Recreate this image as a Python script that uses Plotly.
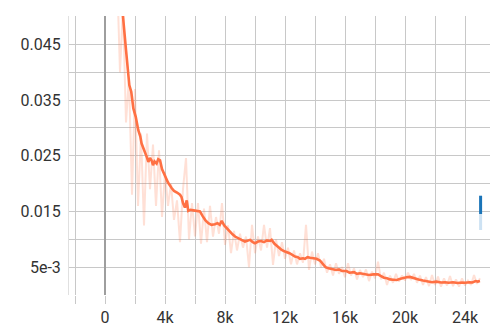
import plotly.graph_objects as go

# ---- data ----
raw_steps = [600, 800, 1000, 1200, 1400, 1600, 1800, 2000, 2200, 2400, 2600, 2800, 3000, 3200, 3400,
             3600, 3800, 4000, 4200, 4400, 4600, 4800, 5000, 5200, 5400, 5600, 5800, 6000, 6200, 6400,
             6600, 6800, 7000, 7200, 7400, 7600, 7800, 8000, 8200, 8400, 8600, 8800, 9000, 9200, 9400,
             9600, 9800, 10000, 10200, 10400, 10600, 10800, 11000, 11200, 11400, 11600, 11800, 12000,
             12200, 12400, 12600, 12800, 13000, 13200, 13400, 13600, 13800, 14000, 14200, 14400, 14600,
             14800, 15000, 15200, 15400, 15600, 15800, 16000, 16200, 16400, 16600, 16800, 17000, 17200,
             17400, 17600, 17800, 18000, 18200, 18400, 18600, 18800, 19000, 19200, 19400, 19600, 19800,
             20000, 20200, 20400, 20600, 20800, 21000, 21200, 21400, 21600, 21800, 22000, 22200, 22400,
             22600, 22800, 23000, 23200, 23400, 23600, 23800, 24000, 24200, 24400, 24600, 24800, 25000]
raw_loss = [0.064, 0.058, 0.040, 0.052, 0.031, 0.039, 0.018, 0.037, 0.016, 0.029, 0.0125, 0.029, 0.019,
            0.027, 0.016, 0.026, 0.014, 0.022, 0.016, 0.020, 0.0135, 0.017, 0.0095, 0.019, 0.0246, 0.010,
            0.0165, 0.0105, 0.0165, 0.0092, 0.0155, 0.0095, 0.016, 0.0105, 0.014, 0.011, 0.0165, 0.009,
            0.0125, 0.0075, 0.0115, 0.008, 0.011, 0.0085, 0.0105, 0.005, 0.0126, 0.0075, 0.0105, 0.008,
            0.0126, 0.0085, 0.012, 0.0054, 0.010, 0.007, 0.0095, 0.0065, 0.0085, 0.0055, 0.008, 0.0055,
            0.0075, 0.0058, 0.0126, 0.0045, 0.0078, 0.0055, 0.0075, 0.005, 0.0065, 0.004, 0.0055, 0.0035,
            0.0057, 0.0038, 0.005, 0.0032, 0.0057, 0.0035, 0.0048, 0.0028, 0.0045, 0.0032, 0.0046, 0.0025,
            0.0042, 0.003, 0.006, 0.0028, 0.004, 0.0018, 0.0035, 0.0022, 0.0038, 0.0024, 0.0035, 0.0026,
            0.004, 0.0027, 0.0038, 0.0022, 0.0035, 0.0018, 0.0032, 0.0016, 0.0036, 0.0018, 0.0033, 0.0015,
            0.003, 0.0017, 0.0034, 0.0016, 0.0028, 0.0015, 0.003, 0.0017, 0.0026, 0.0018, 0.0036, 0.002,
            0.003]

smooth_steps = [1000, 1180, 1400, 1620, 1750, 1890, 2050, 2220, 2350, 2440, 2550, 2670, 2780, 2890,
                3000, 3100, 3200, 3300, 3440, 3550, 3670, 3800, 3900, 4000, 4200, 4440, 4600, 4800,
                5000, 5100, 5200, 5330, 5450, 5550, 5700, 5900, 6100, 6330, 6500, 6700, 6890, 7100,
                7330, 7500, 7650, 7780, 7950, 8110, 8300, 8500, 8670, 8900, 9100, 9330, 9500, 9670,
                9850, 10000, 10200, 10400, 10600, 10800, 11000, 11110, 11300, 11500, 11780, 12000,
                12300, 12670, 12850, 13000, 13200, 13330, 13500, 13670, 13900, 14100, 14330, 14500,
                14700, 14900, 15200, 15400, 15600, 15800, 16100, 16300, 16600, 16800, 17000, 17300,
                17600, 17900, 18200, 18400, 18600, 18800, 19000, 19200, 19450, 19700, 19900, 20100,
                20330, 20600, 20900, 21200, 21550, 21800, 22100, 22400, 22670, 22900, 23200, 23500,
                23800, 24000, 24300, 24500, 24700, 24850, 25000]
smooth_loss = [0.056, 0.0501, 0.044, 0.0377, 0.0365, 0.0335, 0.032, 0.0296, 0.0285, 0.0272, 0.0265,
               0.0254, 0.0248, 0.0239, 0.0246, 0.0242, 0.0233, 0.0240, 0.0236, 0.0244, 0.0242, 0.0226,
               0.0220, 0.0211, 0.0202, 0.0192, 0.0187, 0.0184, 0.0180, 0.0176, 0.0165, 0.0157, 0.0170,
               0.0151, 0.0153, 0.0152, 0.0151, 0.0150, 0.0142, 0.0134, 0.0129, 0.0126, 0.0127, 0.0129,
               0.0126, 0.0133, 0.0125, 0.0120, 0.0114, 0.0109, 0.0105, 0.0101, 0.0099, 0.0096, 0.0098,
               0.0099, 0.0095, 0.0093, 0.0096, 0.0097, 0.0095, 0.0098, 0.0097, 0.0099, 0.0092, 0.0087,
               0.0081, 0.0078, 0.0075, 0.0069, 0.0068, 0.0065, 0.0066, 0.0065, 0.0068, 0.0067, 0.0066,
               0.0065, 0.0062, 0.0057, 0.0050, 0.0048, 0.0046, 0.0045, 0.0046, 0.0043, 0.0043, 0.0040,
               0.0041, 0.0038, 0.0039, 0.0038, 0.0036, 0.0037, 0.0037, 0.0034, 0.0031, 0.0030, 0.0028,
               0.00275, 0.0027, 0.0029, 0.0031, 0.0032, 0.00325, 0.0030, 0.0028, 0.0026, 0.0024, 0.0023,
               0.0024, 0.00225, 0.0023, 0.0022, 0.0023, 0.00215, 0.00225, 0.0022, 0.0023, 0.00225,
               0.0025, 0.0024, 0.0025]

marker_step = [25040, 25040]
marker_dark = [0.01783, 0.01454]
marker_light = [0.01454, 0.01167]

x_tickvals = [-2000, 0, 2000, 4000, 6000, 8000, 10000, 12000, 14000, 16000, 18000, 20000, 22000, 24000]
x_ticktext = ["", "0", "", "4k", "", "8k", "", "12k", "", "16k", "", "20k", "", "24k"]
y_tickvals = [0, 0.005, 0.01, 0.015, 0.02, 0.025, 0.03, 0.035, 0.04, 0.045, 0.05]
y_ticktext = ["", "5e-3", "", "0.015", "", "0.025", "", "0.035", "", "0.045", ""]

ORANGE = "#ff7043"
GRID = "#c8c8c8"

fig = go.Figure()
fig.add_trace(go.Scatter(x=raw_steps, y=raw_loss, mode="lines",
                         line=dict(color="rgba(255,112,67,0.22)", width=2), hoverinfo="skip"))
fig.add_trace(go.Scatter(x=smooth_steps, y=smooth_loss, mode="lines",
                         line=dict(color=ORANGE, width=2.6), hoverinfo="skip"))
fig.add_trace(go.Scatter(x=marker_step, y=marker_light, mode="lines",
                         line=dict(color="#cde2f3", width=3), hoverinfo="skip"))
fig.add_trace(go.Scatter(x=marker_step, y=marker_dark, mode="lines",
                         line=dict(color="#1a74b8", width=3), hoverinfo="skip"))

fig.update_layout(
    width=490, height=327,
    margin=dict(l=69, r=0, t=16, b=32),
    paper_bgcolor="white", plot_bgcolor="white",
    showlegend=False,
    font=dict(family="Roboto, Arial, sans-serif", size=16, color="#333333"),
)
fig.update_xaxes(
    range=[-2400, 25667], tickmode="array", tickvals=x_tickvals, ticktext=x_ticktext,
    showgrid=True, gridcolor=GRID, gridwidth=1,
    zeroline=True, zerolinecolor="#9e9e9e", zerolinewidth=2,
    ticks="outside", ticklen=8, tickcolor=GRID, tickwidth=1,
    showline=False, fixedrange=True,
)
fig.update_yaxes(
    range=[0, 0.0501], tickmode="array", tickvals=y_tickvals, ticktext=y_ticktext,
    showgrid=True, gridcolor=GRID, gridwidth=1,
    zeroline=False, showline=True, linecolor="#e0e0e0", linewidth=1,
    ticks="", ticklabelstandoff=4, fixedrange=True,
)

fig.write_html("out.html", config={"displayModeBar": False})
